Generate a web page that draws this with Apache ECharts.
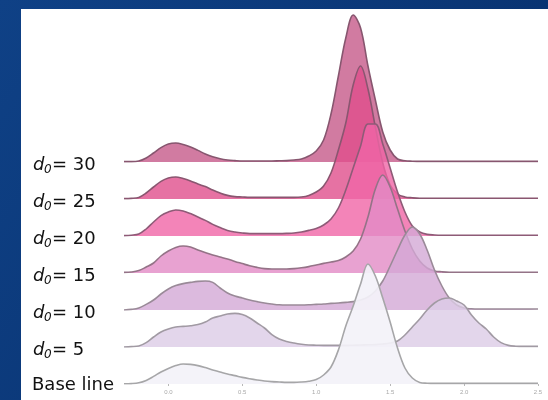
<!DOCTYPE html>
<html>
<head>
<meta charset="utf-8">
<script src="https://cdn.jsdelivr.net/npm/echarts@6/dist/echarts.min.js"></script>
<style>html,body{margin:0;padding:0;}#c{width:548px;height:400px;}</style>
</head>
<body>
<div id="c"></div>
<script>
// x positions of the density estimates
const xValues = [-0.30,-0.25,-0.20,-0.15,-0.10,-0.05,0.00,0.05,0.10,0.15,0.20,0.25,0.30,0.35,0.40,0.45,0.50,0.55,0.60,0.65,0.70,0.75,0.80,0.85,0.90,0.95,1.00,1.05,1.10,1.15,1.20,1.25,1.30,1.35,1.40,1.45,1.50,1.55,1.60,1.65,1.70,1.75,1.80,1.85,1.90,1.95,2.00,2.05,2.10,2.15,2.20,2.25,2.30,2.35,2.40,2.45,2.50];

// ridge labels (top to bottom)
const ridgeNames = ['30','25','20','15','10','5','Base line'];

// densities
const d30 = [0.02,0.02,0.05,0.20,0.45,0.72,0.90,0.95,0.88,0.75,0.58,0.40,0.26,0.16,0.10,0.07,0.05,0.05,0.05,0.05,0.05,0.06,0.07,0.10,0.15,0.30,0.55,1.10,2.40,4.30,6.20,7.35,6.70,4.80,3.10,1.50,0.60,0.15,0.06,0.04,0.03,0.03,0.03,0.03,0.03,0.03,0.03,0.03,0.03,0.03,0.03,0.03,0.03,0.03,0.03,0.03,0.03];
const d25 = [0.02,0.03,0.08,0.30,0.60,0.88,1.05,1.10,1.02,0.90,0.75,0.62,0.45,0.30,0.18,0.12,0.10,0.08,0.08,0.08,0.08,0.08,0.08,0.08,0.10,0.18,0.35,0.65,1.30,2.45,3.80,5.70,6.65,5.50,3.60,1.80,0.70,0.25,0.10,0.06,0.04,0.04,0.04,0.04,0.04,0.04,0.04,0.04,0.04,0.04,0.04,0.04,0.04,0.04,0.04,0.04,0.04];
const d20 = [0.02,0.04,0.10,0.35,0.70,1.02,1.20,1.30,1.25,1.12,0.95,0.78,0.58,0.42,0.28,0.20,0.15,0.12,0.12,0.12,0.12,0.12,0.13,0.15,0.20,0.28,0.38,0.55,0.85,1.40,2.30,3.40,4.50,5.60,5.60,4.60,3.40,2.20,1.20,0.50,0.20,0.08,0.05,0.04,0.04,0.04,0.04,0.04,0.04,0.04,0.04,0.04,0.04,0.04,0.04,0.04,0.04];
const d15 = [0.03,0.05,0.12,0.30,0.50,0.85,1.10,1.28,1.35,1.30,1.15,1.02,0.90,0.80,0.70,0.58,0.47,0.36,0.28,0.22,0.20,0.20,0.20,0.22,0.26,0.32,0.40,0.48,0.55,0.62,0.80,1.10,1.70,2.80,4.20,4.90,4.30,3.20,2.10,1.20,0.60,0.25,0.10,0.06,0.04,0.04,0.04,0.04,0.04,0.04,0.04,0.04,0.04,0.04,0.04,0.04,0.04];
const d10 = [0.00,0.03,0.10,0.28,0.50,0.80,1.05,1.22,1.32,1.38,1.43,1.45,1.38,1.10,0.85,0.70,0.60,0.50,0.42,0.35,0.30,0.26,0.25,0.25,0.25,0.26,0.28,0.30,0.33,0.35,0.38,0.42,0.50,0.65,0.95,1.45,2.20,3.00,3.75,4.15,3.80,3.00,2.00,1.20,0.60,0.25,0.10,0.06,0.05,0.05,0.05,0.05,0.05,0.05,0.05,0.05,0.05];
const d5 = [0.00,0.02,0.05,0.22,0.50,0.75,0.90,1.00,1.03,1.06,1.12,1.25,1.45,1.55,1.65,1.68,1.62,1.45,1.20,0.95,0.62,0.40,0.28,0.20,0.14,0.10,0.09,0.08,0.08,0.08,0.08,0.09,0.10,0.11,0.12,0.15,0.20,0.30,0.60,1.00,1.40,1.85,2.20,2.40,2.45,2.30,2.10,1.60,1.20,0.90,0.50,0.22,0.08,0.04,0.03,0.03,0.03];
const dBase = [0.01,0.02,0.06,0.18,0.38,0.60,0.78,0.92,1.00,0.98,0.92,0.82,0.70,0.60,0.50,0.42,0.33,0.26,0.20,0.15,0.12,0.10,0.08,0.08,0.10,0.14,0.22,0.45,0.85,1.70,2.90,3.90,5.00,6.00,5.40,4.30,3.10,1.80,0.80,0.30,0.08,0.04,0.03,0.03,0.03,0.03,0.03,0.03,0.03,0.03,0.03,0.03,0.03,0.03,0.03,0.03,0.03];

const ridges = [d30, d25, d20, d15, d10, d5, dBase];

// axis tick labels
const xTicks = [0.0, 0.5, 1.0, 1.5, 2.0, 2.5];

const fillColors = ['#c65a8a','#e04f8c','#f065a6','#e28bc6','#d3a9d6','#dccce6','#f3f2f8'];
const lineColors = ['#87566f','#8a5670','#8e5b77','#947387','#9a8a98','#a19aa3','#a6a6a8'];

const chart = echarts.init(document.getElementById('c'), null, {renderer: 'canvas'});

const baseTop = 162, step = 37, gridH = 160;
const grids = [], xAxes = [], yAxes = [], series = [], graphics = [];

graphics.push({type:'rect', z:-200, shape:{x:0,y:0,width:548,height:400},
  style:{fill:new echarts.graphic.LinearGradient(0,0,1,1,[{offset:0,color:'#0f4186'},{offset:1,color:'#062d68'}])}, silent:true});
graphics.push({type:'rect', z:-100, shape:{x:21,y:9,width:527,height:391}, style:{fill:'#ffffff'}, silent:true});

ridges.forEach((vals, i) => {
  const baseline = baseTop + i * step;
  grids.push({left:124, right:10, top: baseline - gridH, height: gridH});
  const last = i === ridges.length - 1;
  xAxes.push({
    type:'value', gridIndex:i, min:-0.3, max:2.5,
    axisLine:{show:false}, splitLine:{show:false},
    axisTick:{show:last, customValues:xTicks, length:2, lineStyle:{color:'#b8b8b8'}},
    axisLabel:{show:last, customValues:xTicks, fontSize:6, color:'#a8a8a8', margin:5,
      formatter: v => v.toFixed(1)}
  });
  yAxes.push({type:'value', gridIndex:i, min:0, max:8, show:false});
  series.push({
    type:'line', xAxisIndex:i, yAxisIndex:i, z: 2 + i,
    data: xValues.map((x, k) => [x, vals[k]]),
    smooth: 0.35, showSymbol:false, symbol:'none',
    lineStyle:{color:lineColors[i], width:1.6},
    areaStyle:{color:fillColors[i], opacity: i === 6 ? 0.92 : 0.8}
  });

  const ty = baseline + 3;
  if (i < 6) {
    graphics.push({type:'text', z:10, x:33, y:ty, style:{text:'d', font:'italic 18px "DejaVu Sans"', fill:'#111', verticalAlign:'middle'}});
    graphics.push({type:'text', z:10, x:44, y:ty+5, style:{text:'0', font:'italic 12px "DejaVu Sans"', fill:'#111', verticalAlign:'middle'}});
    graphics.push({type:'text', z:10, x:52, y:ty, style:{text:'= ' + ridgeNames[i], font:'18px "DejaVu Sans"', fill:'#111', verticalAlign:'middle'}});
  } else {
    graphics.push({type:'text', z:10, x:32, y:ty-2, style:{text:ridgeNames[i], font:'18px "DejaVu Sans"', fill:'#111', verticalAlign:'middle'}});
  }
});

chart.setOption({
  animation:false,
  backgroundColor:'#0b3675',
  grid: grids, xAxis: xAxes, yAxis: yAxes, series: series,
  graphic: {elements: graphics}
});
</script>
</body>
</html>
